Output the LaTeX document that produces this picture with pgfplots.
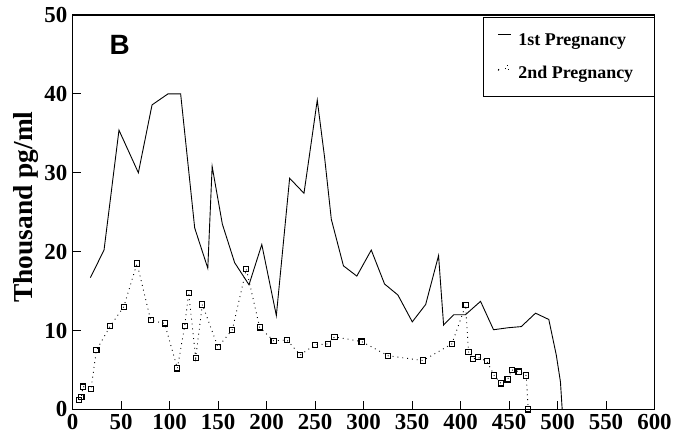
\documentclass[border=0pt]{standalone}
\usepackage{fontspec}
\setmainfont{Liberation Serif}
\newfontfamily\bfont{Liberation Sans}
\usepackage{pgfplots}
\pgfplotsset{compat=1.18}
\begin{document}
\begin{tikzpicture}
\begin{axis}[
  scale only axis,
  width=584pt, height=396pt,
  xmin=0, xmax=600, ymin=0, ymax=50,
  xtick={0,50,...,600}, ytick={0,10,...,50},
  tick align=inside, xtick pos=bottom, ytick pos=left,
  major tick length=8pt,
  axis line style={line width=1.2pt},
  every tick/.style={line width=0.9pt, black},
  /pgf/number format/assume math mode=true,
  tick label style={font=\bfseries\fontsize{23}{23}\selectfont},
  yticklabel style={xshift=-2pt},
  xticklabel style={yshift=-1pt},
  ylabel={Thousand pg/ml},
  ylabel style={at={(axis description cs:-0.080,0.513)}, anchor=center,
    font=\bfseries\fontsize{27.5}{27.5}\selectfont},
  legend style={at={(1,0.995)}, anchor=north east, draw=black, line width=0.8pt,
    font=\bfseries\fontsize{18}{20}\selectfont, row sep=16pt,
    inner xsep=14pt, inner ysep=14pt, nodes={inner xsep=7pt}},
  legend cell align=left,
]
\addplot[black, line width=0.9pt, mark=none,
  legend image code/.code={\draw[black, line width=0.6pt] (0.05cm,0.2cm) -- (0.5cm,0.2cm);}]
coordinates {
(18.2,16.7) (32.3,20.2) (47.7,35.4) (67.7,30.0) (81.8,38.6) (98.3,40.0)
(111.3,40.0) (125.8,23.0) (139.3,17.9) (143.8,30.8) (154.3,23.5) (167,18.6)
(181.8,15.8) (195,20.9) (210,11.9) (223.7,29.3) (238.5,27.4) (244,32.1)
(252.2,39.2) (259.8,31.9) (266.7,24.1) (279.2,18.2) (293,16.9) (307.9,20.2)
(321.6,15.9) (335.4,14.5) (350.2,11.1) (364,13.3) (377.3,19.5) (382.5,10.7)
(393,12.0) (405,12.0) (420.6,13.7) (434,10.1) (448.8,10.35) (462.6,10.5)
(477.3,12.2) (491,11.4) (498.7,6.9) (503,3.5) (504.8,0)
};
\addlegendentry{1st Pregnancy}
\addplot[black, line width=0.9pt, dash pattern=on 0.9pt off 4pt,
  mark=square, mark size=2.6pt, mark options={solid, line width=1.1pt},
  legend image code/.code={
    \fill[black] (0.05cm,0.12cm) circle (0.6pt);
    \draw[black, line width=0.8pt] (0.3cm,0.15cm) rectangle (0.42cm,0.27cm);}]
coordinates {
(6.5,1.2) (9,1.6) (10.6,2.9) (18.9,2.6) (24.4,7.5) (38.8,10.6) (52.6,13.0)
(66.3,18.5) (80.4,11.3) (94.8,10.9) (107.9,5.2) (115.5,10.6) (119.6,14.8)
(126.8,6.5) (133.7,13.3) (149.8,7.9) (164.6,10.1) (179,17.8) (192.8,10.4)
(207.2,8.7) (220.9,8.8) (234.7,6.9) (249.8,8.2) (263.2,8.3) (270,9.2)
(297.9,8.6) (325.4,6.8) (361.2,6.2) (391,8.3) (405.2,13.2) (408.2,7.3)
(412.7,6.4) (417.8,6.6) (427.1,6.1) (434.7,4.3) (441.6,3.3) (448.5,3.8)
(452.9,5.0) (459.8,4.8) (467.7,4.3) (469.8,0)
};
\addlegendentry{2nd Pregnancy}
\node[font=\bfont\bfseries\fontsize{28}{28}\selectfont] at (axis cs:48.5,46.2) {B};
\end{axis}
\path (current axis.south west) ++(-73pt,-38pt) coordinate (bl);
\path (current axis.north east) ++(18pt,15pt) coordinate (tr);
\path (bl) rectangle (tr);
\end{tikzpicture}
\end{document}
